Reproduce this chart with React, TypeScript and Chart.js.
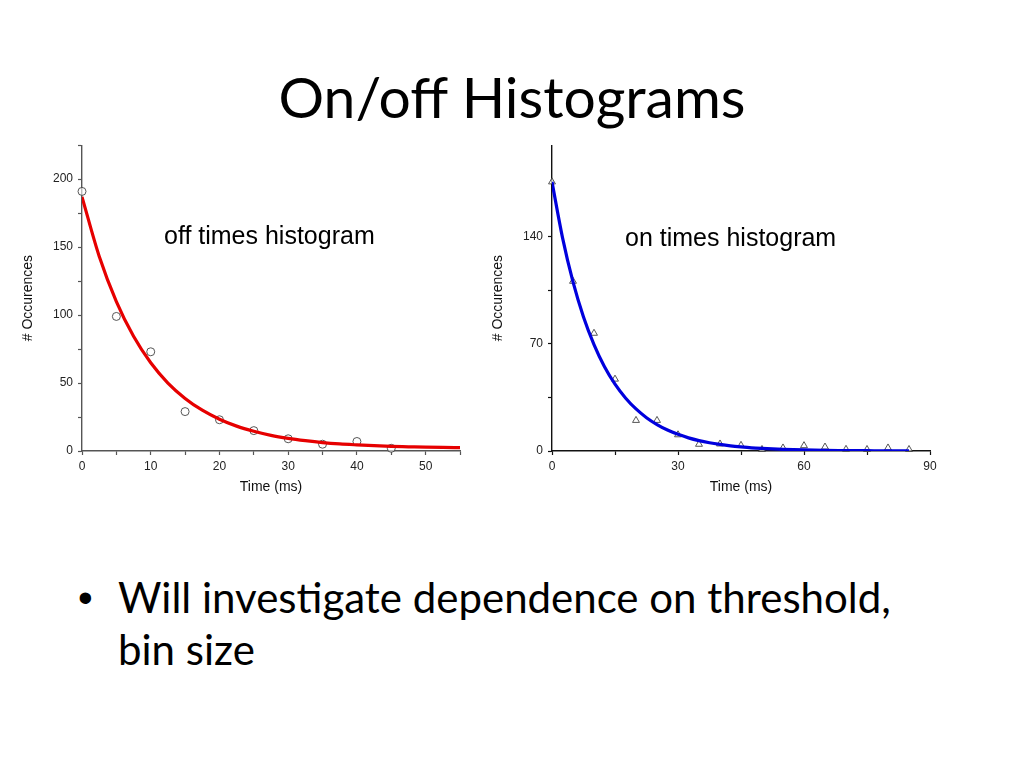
import React, { useEffect, useRef } from "react";
import { Chart, registerables } from "chart.js";

Chart.register(...registerables);

// ---- Off times histogram (left) ----
const offTimes = [0, 5, 10, 15, 20, 25, 30, 35, 40, 45];
const offCounts = [191, 99, 73, 29, 23, 15, 9, 5, 7, 2];
const offFitTimes = [0, 2.5, 5, 7.5, 10, 12.5, 15, 17.5, 20, 22.5, 25, 27.5, 30, 32.5, 35, 37.5, 40, 42.5, 45, 47.5, 50, 52.5, 55];
const offFitCounts = [187, 143.3, 109.9, 84.4, 64.9, 50, 38.7, 30, 23.4, 18.3, 14.5, 11.5, 9.3, 7.6, 6.2, 5.2, 4.5, 3.9, 3.4, 3.1, 2.8, 2.6, 2.5];
const offYTicks = [0, 25, 50, 75, 100, 125, 150, 175, 200, 225];
const offYLabels = [0, 50, 100, 150, 200];
const offXTicks = [0, 5, 10, 15, 20, 25, 30, 35, 40, 45, 50, 55];
const offXLabels = [0, 10, 20, 30, 40, 50];

// ---- On times histogram (right) ----
const onTimes = [0, 5, 10, 15, 20, 25, 30, 35, 40, 45, 50, 55, 60, 65, 70, 75, 80, 85];
const onCounts = [176, 111, 77, 47, 20, 20, 10.6, 4.4, 4.6, 3.7, 1, 2, 3.5, 2.6, 1.1, 1, 2, 1];
const onFitTimes = [0, 2.5, 5, 7.5, 10, 12.5, 15, 17.5, 20, 22.5, 25, 27.5, 30, 32.5, 35, 37.5, 40, 42.5, 45, 47.5, 50, 55, 60, 65, 70, 75, 80, 85];
const onFitCounts = [176, 139.6, 110.6, 87.7, 69.6, 55.1, 43.7, 34.7, 27.5, 21.8, 17.3, 13.7, 10.9, 8.6, 6.8, 5.4, 4.3, 3.4, 2.7, 2.1, 1.7, 1.1, 0.7, 0.4, 0.3, 0.2, 0.1, 0.1];
const onYTicks = [0, 35, 70, 105, 140];
const onYLabels = [0, 70, 140];
const onXTicks = [0, 15, 30, 45, 60, 75, 90];
const onXLabels = [0, 30, 60, 90];

const AXIS_FONT = "'Liberation Sans', Arial, sans-serif";

type Cfg = {
  times: number[];
  counts: number[];
  fitTimes: number[];
  fitCounts: number[];
  xMax: number;
  yMax: number;
  xTicks: number[];
  xLabels: number[];
  yTicks: number[];
  yLabels: number[];
  lineColor: string;
  axisColor: string;
  pointStyle: string;
  padRight: number;
};

function makeChart(canvas: HTMLCanvasElement, c: Cfg) {
  const axisCommon = {
    border: { display: true, color: c.axisColor, width: 1.4 },
    grid: {
      drawOnChartArea: false,
      drawTicks: true,
      tickLength: 4,
      color: c.axisColor,
      tickWidth: 1.2,
    },
  };
  return new Chart(canvas, {
    type: "scatter",
    data: {
      datasets: [
        {
          type: "line",
          label: "fit",
          data: c.fitTimes.map((t, i) => ({ x: t, y: c.fitCounts[i] })),
          borderColor: c.lineColor,
          borderWidth: 3.2,
          pointRadius: 0,
          cubicInterpolationMode: "monotone",
          fill: false,
          order: 0,
        },
        {
          type: "scatter",
          label: "data",
          data: c.times.map((t, i) => ({ x: t, y: c.counts[i] })),
          pointStyle: c.pointStyle,
          pointRadius: 4,
          borderColor: "#444",
          borderWidth: 0.9,
          backgroundColor: "rgba(255,255,255,0.6)",
          clip: false,
          order: 1,
        },
      ],
    } as any,
    options: {
      responsive: false,
      maintainAspectRatio: false,
      animation: false,
      layout: { padding: { top: 10, right: c.padRight, bottom: 0, left: 0 } },
      plugins: { legend: { display: false }, tooltip: { enabled: false } },
      scales: {
        x: {
          type: "linear",
          min: 0,
          max: c.xMax,
          ...axisCommon,
          afterBuildTicks: (s: any) => {
            s.ticks = c.xTicks.map((v) => ({ value: v }));
          },
          afterFit: (s: any) => {
            s.height = 49;
          },
          ticks: {
            autoSkip: false,
            maxRotation: 0,
            padding: 4,
            color: "#222",
            font: { family: AXIS_FONT, size: 12 },
            callback: (v: any) => (c.xLabels.includes(Number(v)) ? String(v) : ""),
          },
          title: {
            display: true,
            text: "Time (ms)",
            color: "#111",
            font: { family: AXIS_FONT, size: 14 },
            padding: { top: 4, bottom: 4 },
          },
        },
        y: {
          type: "linear",
          min: 0,
          max: c.yMax,
          ...axisCommon,
          afterBuildTicks: (s: any) => {
            s.ticks = c.yTicks.map((v) => ({ value: v }));
          },
          afterFit: (s: any) => {
            s.width = 66;
          },
          ticks: {
            autoSkip: false,
            padding: 5,
            color: "#222",
            font: { family: AXIS_FONT, size: 12 },
            callback: (v: any) => (c.yLabels.includes(Number(v)) ? String(v) : ""),
          },
          title: {
            display: true,
            text: "# Occurences",
            color: "#111",
            font: { family: AXIS_FONT, size: 14 },
            padding: { top: 4, bottom: 4 },
          },
        },
      },
    } as any,
  });
}

function ChartBox(props: { cfg: Cfg; left: number; top: number; width: number; height: number }) {
  const ref = useRef<HTMLCanvasElement | null>(null);
  useEffect(() => {
    if (!ref.current) return;
    const ch = makeChart(ref.current, props.cfg);
    return () => ch.destroy();
  }, []);
  return (
    <canvas
      ref={ref}
      width={props.width}
      height={props.height}
      style={{
        position: "absolute",
        left: props.left,
        top: props.top,
        width: props.width,
        height: props.height,
      }}
    />
  );
}

const leftCfg: Cfg = {
  times: offTimes,
  counts: offCounts,
  fitTimes: offFitTimes,
  fitCounts: offFitCounts,
  xMax: 55,
  yMax: 225,
  xTicks: offXTicks,
  xLabels: offXLabels,
  yTicks: offYTicks,
  yLabels: offYLabels,
  lineColor: "#e60000",
  axisColor: "#555",
  pointStyle: "circle",
  padRight: 25,
};

const rightCfg: Cfg = {
  times: onTimes,
  counts: onCounts,
  fitTimes: onFitTimes,
  fitCounts: onFitCounts,
  xMax: 90,
  yMax: 200,
  xTicks: onXTicks,
  xLabels: onXLabels,
  yTicks: onYTicks,
  yLabels: onYLabels,
  lineColor: "#0000dd",
  axisColor: "#111",
  pointStyle: "triangle",
  padRight: 30,
};

export default function App() {
  return (
    <div
      style={{
        position: "fixed",
        left: 0,
        top: 0,
        width: 1024,
        height: 768,
        background: "#fff",
        overflow: "hidden",
      }}
    >
      <div
        style={{
          position: "absolute",
          left: 0,
          top: 68,
          width: 1024,
          textAlign: "center",
          fontFamily: "Lato, 'Open Sans', sans-serif",
          fontSize: 57,
          lineHeight: 1,
          color: "#000",
          whiteSpace: "nowrap",
        }}
      >
        On/off Histograms
      </div>

      <ChartBox cfg={leftCfg} left={16} top={133} width={469} height={367} />
      <ChartBox cfg={rightCfg} left={486} top={133} width={474} height={367} />

      <div
        style={{
          position: "absolute",
          left: 164,
          top: 220,
          fontFamily: AXIS_FONT,
          fontSize: 25,
          lineHeight: "30px",
          color: "#000",
          whiteSpace: "nowrap",
        }}
      >
        off times histogram
      </div>
      <div
        style={{
          position: "absolute",
          left: 625,
          top: 222,
          fontFamily: AXIS_FONT,
          fontSize: 25,
          lineHeight: "30px",
          color: "#000",
          whiteSpace: "nowrap",
        }}
      >
        on times histogram
      </div>

      <div
        style={{
          position: "absolute",
          left: 78,
          top: 572,
          fontFamily: "Arial, 'Liberation Sans', sans-serif",
          fontSize: 42,
          lineHeight: "51.5px",
          color: "#000",
        }}
      >
        •
      </div>
      <div
        style={{
          position: "absolute",
          left: 118,
          top: 572,
          fontFamily: "Lato, 'Open Sans', sans-serif",
          fontSize: 42,
          lineHeight: "51.5px",
          color: "#000",
          whiteSpace: "nowrap",
        }}
      >
        Will investigate dependence on threshold,
        <br />
        bin size
      </div>
    </div>
  );
}
